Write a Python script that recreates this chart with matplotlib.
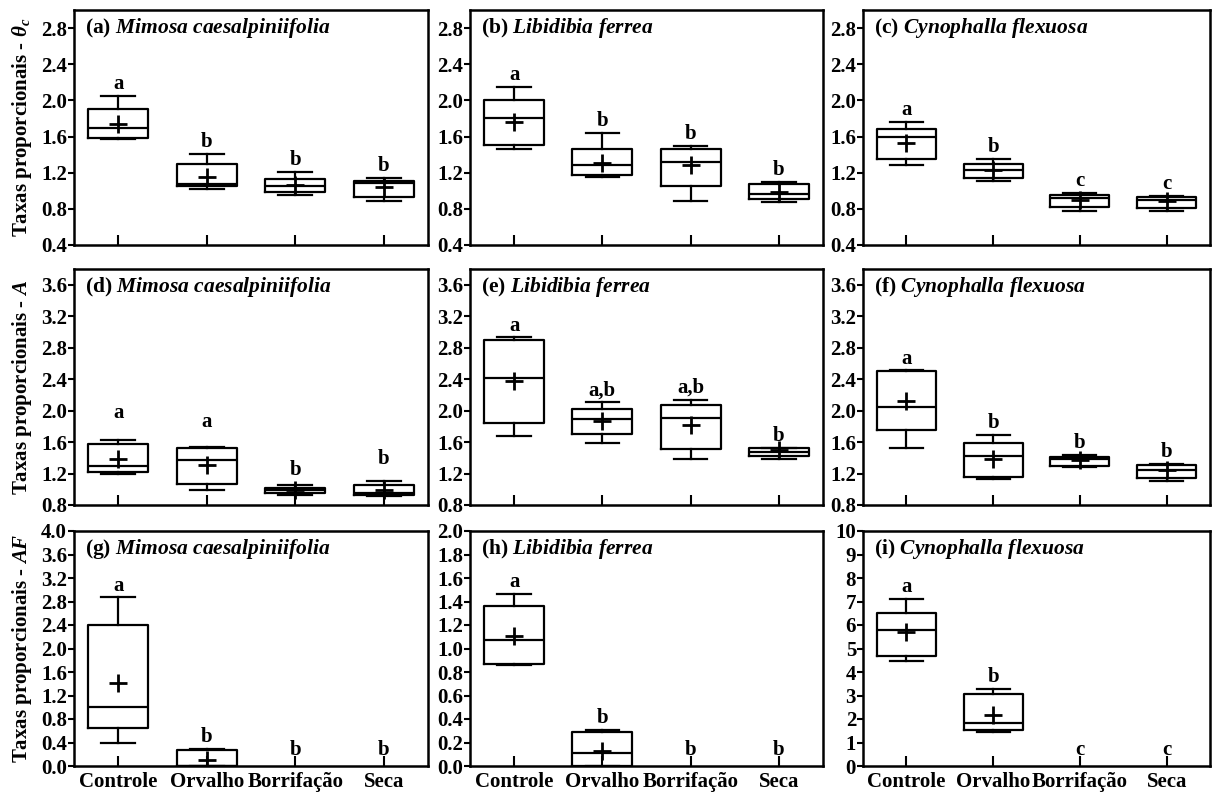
import matplotlib
matplotlib.use('Agg')
import matplotlib.pyplot as plt
import matplotlib.transforms as mtransforms
import numpy as np

plt.rcParams['font.family'] = ['Liberation Serif', 'DejaVu Serif']
plt.rcParams['font.weight'] = 'bold'
plt.rcParams['mathtext.fontset'] = 'custom'
plt.rcParams['mathtext.it'] = 'Liberation Serif:italic:bold'
plt.rcParams['mathtext.rm'] = 'Liberation Serif:italic'
plt.rcParams['mathtext.bf'] = 'Liberation Serif:bold'

categories = ['Controle', 'Orvalho', 'Borrifação', 'Seca']

# each box: [whislo, q1, median, q3, whishi, mean]; None = no box drawn
stats_a = [[1.57, 1.58, 1.70, 1.90, 2.05, 1.74], [1.02, 1.05, 1.08, 1.30, 1.41, 1.155],
           [0.95, 0.99, 1.05, 1.13, 1.21, 1.06], [0.886, 0.93, 1.09, 1.11, 1.14, 1.04]]
stats_b = [[1.46, 1.51, 1.80, 2.00, 2.15, 1.76], [1.15, 1.18, 1.29, 1.46, 1.64, 1.31],
           [0.886, 1.05, 1.32, 1.46, 1.50, 1.28], [0.875, 0.91, 0.96, 1.08, 1.10, 0.99]]
stats_c = [[1.28, 1.35, 1.60, 1.685, 1.76, 1.53], [1.11, 1.14, 1.23, 1.30, 1.35, 1.23],
           [0.775, 0.82, 0.92, 0.95, 0.98, 0.90], [0.775, 0.81, 0.90, 0.935, 0.94, 0.886]]
stats_d = [[1.19, 1.22, 1.30, 1.58, 1.62, 1.385], [0.99, 1.07, 1.37, 1.52, 1.54, 1.31],
           [0.93, 0.95, 0.99, 1.02, 1.05, 0.99], [0.915, 0.93, 0.95, 1.05, 1.11, 0.99]]
stats_e = [[1.68, 1.84, 2.42, 2.90, 2.93, 2.37], [1.585, 1.70, 1.89, 2.02, 2.11, 1.87],
           [1.38, 1.51, 1.90, 2.07, 2.14, 1.82], [1.385, 1.42, 1.48, 1.52, 1.53, 1.50]]
stats_f = [[1.52, 1.755, 2.05, 2.50, 2.51, 2.12], [1.13, 1.16, 1.42, 1.59, 1.69, 1.385],
           [1.28, 1.30, 1.39, 1.415, 1.44, 1.37], [1.105, 1.14, 1.245, 1.31, 1.32, 1.24]]
stats_g = [[0.40, 0.65, 1.01, 2.40, 2.87, 1.42], [0.0, 0.0, 0.0, 0.27, 0.29, 0.11], None, None]
stats_h = [[0.86, 0.87, 1.07, 1.36, 1.465, 1.11], [0.0, 0.0, 0.11, 0.29, 0.31, 0.13], None, None]
stats_i = [[4.48, 4.70, 5.78, 6.53, 7.10, 5.71], [1.46, 1.53, 1.81, 3.06, 3.27, 2.17], None, None]

letters_a = ['a', 'b', 'b', 'b']; letter_y_a = [2.18, 1.54, 1.34, 1.27]
letters_b = ['a', 'b', 'b', 'b']; letter_y_b = [2.28, 1.77, 1.63, 1.23]
letters_c = ['a', 'b', 'c', 'c']; letter_y_c = [1.89, 1.48, 1.11, 1.07]
letters_d = ['a', 'a', 'b', 'b']; letter_y_d = [1.97, 1.86, 1.245, 1.38]
letters_e = ['a', 'a,b', 'a,b', 'b']; letter_y_e = [3.08, 2.26, 2.29, 1.68]
letters_f = ['a', 'b', 'b', 'b']; letter_y_f = [2.66, 1.84, 1.59, 1.47]
letters_g = ['a', 'b', 'b', 'b']; letter_y_g = [3.07, 0.49, 0.27, 0.27]
letters_h = ['a', 'b', 'b', 'b']; letter_y_h = [1.57, 0.41, 0.137, 0.137]
letters_i = ['a', 'b', 'c', 'c']; letter_y_i = [7.61, 3.78, 0.68, 0.68]

titles = ['(a) $\\mathit{Mimosa\\ caesalpiniifolia}$', '(b) $\\mathit{Libidibia\\ ferrea}$',
          '(c) $\\mathit{Cynophalla\\ flexuosa}$', '(d) $\\mathit{Mimosa\\ caesalpiniifolia}$',
          '(e) $\\mathit{Libidibia\\ ferrea}$', '(f) $\\mathit{Cynophalla\\ flexuosa}$',
          '(g) $\\mathit{Mimosa\\ caesalpiniifolia}$', '(h) $\\mathit{Libidibia\\ ferrea}$',
          '(i) $\\mathit{Cynophalla\\ flexuosa}$']
ylabels = ['Taxas proporcionais - $\\mathrm{\\theta_c}$', 'Taxas proporcionais - $\\mathrm{A}$',
           'Taxas proporcionais - $\\mathrm{AF}$']

ylims = [(0.4, 3.0), (0.4, 3.0), (0.4, 3.0), (0.8, 3.8), (0.8, 3.8), (0.8, 3.8),
         (0.0, 4.0), (0.0, 2.0), (0.0, 10.0)]
yticks = [[0.4, 0.8, 1.2, 1.6, 2.0, 2.4, 2.8]] * 3 + \
         [[0.8, 1.2, 1.6, 2.0, 2.4, 2.8, 3.2, 3.6]] * 3 + \
         [[0.0, 0.4, 0.8, 1.2, 1.6, 2.0, 2.4, 2.8, 3.2, 3.6, 4.0],
          [0.0, 0.2, 0.4, 0.6, 0.8, 1.0, 1.2, 1.4, 1.6, 1.8, 2.0],
          [0, 1, 2, 3, 4, 5, 6, 7, 8, 9, 10]]
yfmt = ['{:.1f}'] * 8 + ['{:d}']

all_stats = [stats_a, stats_b, stats_c, stats_d, stats_e, stats_f, stats_g, stats_h, stats_i]
all_letters = [letters_a, letters_b, letters_c, letters_d, letters_e, letters_f, letters_g, letters_h, letters_i]
all_letter_y = [letter_y_a, letter_y_b, letter_y_c, letter_y_d, letter_y_e, letter_y_f, letter_y_g, letter_y_h, letter_y_i]

W, H = 1217, 798
fig = plt.figure(figsize=(W / 100, H / 100), dpi=100)
cols = [(74, 428), (470, 823), (863, 1210)]
rows = [(10, 245), (269, 505), (531, 766)]
label_nudge_px = [3, -4, 4, 0]

lw = 1.6
for p in range(9):
    r, c = divmod(p, 3)
    x0, x1 = cols[c]
    y0, y1 = rows[r]
    ax = fig.add_axes([x0 / W, 1 - y1 / H, (x1 - x0) / W, (y1 - y0) / H])
    st = []
    pos = []
    for k, s in enumerate(all_stats[p]):
        if s is None:
            continue
        st.append(dict(whislo=s[0], q1=s[1], med=s[2], q3=s[3], whishi=s[4], mean=s[5], fliers=[]))
        pos.append(k + 1)
    lp = dict(color='k', linewidth=lw)
    ax.bxp(st, positions=pos, widths=0.68, capwidths=0.38, showmeans=True, showfliers=False,
           boxprops=lp, medianprops=lp, whiskerprops=lp, capprops=lp,
           meanprops=dict(marker='+', markersize=13, markeredgewidth=2, color='k',
                          markeredgecolor='k'))
    for k, (lt, ly) in enumerate(zip(all_letters[p], all_letter_y[p])):
        ax.text(k + 1, ly, lt, ha='center', va='center', fontsize=15, fontweight='bold')
    ax.set_xlim(0.5, 4.5)
    ax.set_ylim(*ylims[p])
    ax.set_xticks([1, 2, 3, 4])
    if r == 2:
        ax.set_xticklabels(categories, fontsize=15, fontweight='bold')
        for lab, dx in zip(ax.get_xticklabels(), label_nudge_px):
            lab.set_transform(lab.get_transform() +
                              mtransforms.ScaledTranslation(dx / 100, 0, fig.dpi_scale_trans))
    else:
        ax.tick_params(axis='x', labelbottom=False)
    ax.set_yticks(yticks[p])
    ax.set_yticklabels([yfmt[p].format(v) for v in yticks[p]], fontsize=15, fontweight='bold')
    ax.tick_params(axis='x', direction='in', length=7, width=1.5, pad=4)
    ax.tick_params(axis='y', direction='out', length=4, width=1.5, pad=1)
    for sp in ax.spines.values():
        sp.set_linewidth(1.8)
    ax.text(11 / (x1 - x0), 1 - 18 / (y1 - y0), titles[p], transform=ax.transAxes,
            ha='left', va='center', fontsize=15.5, fontweight='bold')
    if c == 0:
        ax.set_ylabel(ylabels[r], fontsize=15, fontweight='bold')
        ax.yaxis.set_label_coords(-(x0 - 34) / (x1 - x0), 0.5)

fig.savefig('out.png', dpi=100)
